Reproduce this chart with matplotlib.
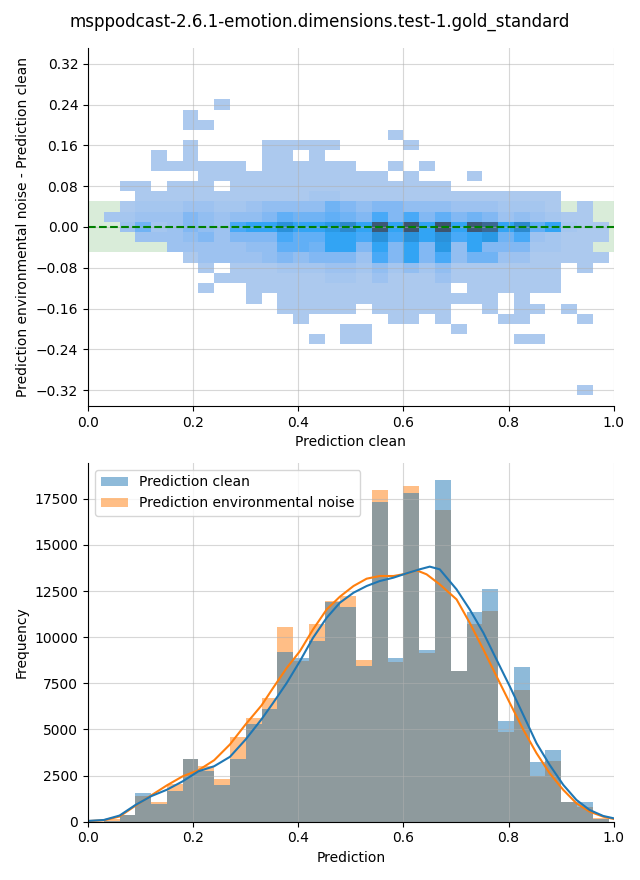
import numpy as np
import matplotlib
matplotlib.use("Agg")
import matplotlib.pyplot as plt
import seaborn as sns
from matplotlib.patches import Patch

TITLE = "msppodcast-2.6.1-emotion.dimensions.test-1.gold_standard"

# ---- top panel: 2D histogram (difference vs clean prediction) ----
# one string per y-bin row (top row = +0.24), one char per x-bin (0.03 wide, from 0.03)
# '.' = empty, other chars = intensity level
heat_rows = [
    ".......1" "........" "........" "........",  # 0.24
    ".....1.." "........" "........" "........",  # 0.22
    ".....11." "........" "........" "........",  # 0.20
    "........" "........" "..1....." "........",  # 0.18
    ".....1.." "..11111." "...1...." "........",  # 0.16
    "...1.1.." "..11.1.." "........" "........",  # 0.14
    "...11111" "1.111111" "..1.1..." "........",  # 0.12
    "......11" "11111111" "11.1...1" "........",  # 0.10
    ".11.111." "11111111" "111111.." "........",  # 0.08
    "..111111" "11111221" "11111111" "11111...",  # 0.06
    ".1222332" "23444465" "45544433" "32221.1.",  # 0.04
    "22333543" "44576676" "58585756" "5343211.",  # 0.02
    ".3623543" "899b99ac" "9e9f9f9e" "d9c79211",  # 0.00
    "..333453" "55587799" "8b8b9b89" "a6832111",  # -0.02
    "....3333" "34477699" "59595a49" "5552211.",  # -0.04
    ".....133" "33454555" "38595846" "63311111",  # -0.06
    "......1." "11122233" "24242411" "11111.1.",  # -0.08
    ".......1" "11111122" "13111311" "11111...",  # -0.10
    "......1." ".1111111" "111111.1" "11111...",  # -0.12
    "........" ".1.11111" "11111111" "1.1.....",  # -0.14
    "........" "...11111" ".11111.." "1.11.1..",  # -0.16
    "........" "....1..." "..11.1.." ".11...1.",  # -0.18
    "........" ".......1" "1.....1." "........",  # -0.20
    "........" ".....1.1" "1......." "..11....",  # -0.22
    "........" "........" "........" "........",  # -0.24
    "........" "........" "........" "........",  # -0.26
    "........" "........" "........" "........",  # -0.28
    "........" "........" "........" "........",  # -0.30
    "........" "........" "........" "......1.",  # -0.32
]
level_counts = {"1": 3, "2": 270, "3": 540, "4": 900, "5": 1350, "6": 1800,
                "7": 2160, "8": 2610, "9": 3060, "a": 3900, "b": 4400,
                "c": 5000, "d": 7400, "e": 8640, "f": 9000}

# ---- bottom panel: histogram counts per 0.03 bin (0.03 .. 0.99) ----
clean_counts = [60, 370, 1570, 965, 1640, 3370, 2730, 2000, 3420, 5280,
                6100, 9220, 8860, 9770, 11890, 11630, 8430, 17320, 8880, 17810,
                9330, 18520, 8190, 11380, 12590, 5470, 8410, 3225, 3900, 1070,
                1070, 150]
noise_counts = [130, 350, 1400, 1040, 2060, 3420, 3000, 2310, 4590, 5610,
                6680, 10580, 8730, 10690, 11940, 12210, 8770, 17980, 8680, 18190,
                9170, 16870, 8190, 10710, 11400, 4870, 7160, 2480, 3300, 1070,
                815, 220]

# KDE curves
kde_clean_x = [0.0, 0.03, 0.06, 0.09, 0.12, 0.15, 0.18, 0.21, 0.24, 0.27,
               0.30, 0.33, 0.352, 0.378, 0.403, 0.428, 0.454, 0.479, 0.505, 0.530,
               0.555, 0.581, 0.606, 0.631, 0.650, 0.669, 0.701, 0.726, 0.752, 0.777,
               0.802, 0.828, 0.853, 0.878, 0.904, 0.929, 0.954, 0.980, 1.0]
kde_clean = [40, 90, 330, 900, 1380, 1730, 2185, 2731, 3005, 3515,
             4460, 5550, 6433, 7520, 8698, 9966, 11053, 11869, 12412, 12775,
             13046, 13228, 13463, 13681, 13826, 13680, 12593, 11506, 10238, 8788,
             7350, 5780, 4258, 3080, 1993, 1178, 634, 308, 181]
kde_noise_x = [0.0, 0.03, 0.06, 0.09, 0.12, 0.15, 0.18, 0.21, 0.24, 0.27,
               0.30, 0.33, 0.352, 0.378, 0.403, 0.428, 0.454, 0.479, 0.505, 0.530,
               0.555, 0.581, 0.606, 0.625, 0.644, 0.669, 0.701, 0.726, 0.752, 0.777,
               0.802, 0.828, 0.853, 0.878, 0.904, 0.929, 0.954, 0.980, 1.0]
kde_noise = [30, 73, 280, 860, 1420, 1967, 2458, 2786, 3332, 4188,
             5281, 6300, 7248, 8335, 9241, 10419, 11506, 12195, 12775, 13173,
             13318, 13318, 13445, 13626, 13409, 12865, 12050, 10781, 9332, 7882,
             6450, 4983, 3715, 2627, 1721, 997, 544, 272, 145]

hist_edges = np.linspace(0.03, 0.99, 33)
heat_x_edges = np.linspace(0.03, 0.99, 33)
heat_y_edges = np.linspace(-0.33, 0.25, 30)

# ---- build 2D weights ----
x_cent = (heat_x_edges[:-1] + heat_x_edges[1:]) / 2
y_cent = ((heat_y_edges[:-1] + heat_y_edges[1:]) / 2)[::-1]
xs, ys, ws = [], [], []
for r, row in enumerate(heat_rows):
    for c, ch in enumerate(row):
        if ch != ".":
            xs.append(x_cent[c])
            ys.append(y_cent[r])
            ws.append(level_counts[ch])

fig = plt.figure(figsize=(6.4, 8.8), dpi=100)
ax1 = fig.add_axes([0.1375, 0.5386, 0.8215, 0.4069])
ax2 = fig.add_axes([0.1375, 0.0663, 0.8215, 0.4076])

ax1.axhspan(-0.05, 0.05, color="green", alpha=0.15, linewidth=0)
sns.histplot(x=xs, y=ys, weights=ws, bins=[heat_x_edges, heat_y_edges], ax=ax1)
ax1.axhline(0, color="green", linestyle="--", linewidth=1.5)
ax1.set_xlim(0, 1)
ax1.set_ylim(-0.351, 0.351)
ax1.set_yticks(np.arange(-0.32, 0.33, 0.08))
ax1.set_xlabel("Prediction clean")
ax1.set_ylabel("Prediction environmental noise - Prediction clean")
ax1.grid(True, alpha=0.5)

centers = (hist_edges[:-1] + hist_edges[1:]) / 2
width = hist_edges[1] - hist_edges[0]
ax2.bar(centers, noise_counts, width=width, color="C1", alpha=0.5, linewidth=0)
ax2.bar(centers, clean_counts, width=width, color="C0", alpha=0.5, linewidth=0)
ax2.plot(kde_noise_x, kde_noise, color="C1", linewidth=1.5)
ax2.plot(kde_clean_x, kde_clean, color="C0", linewidth=1.5)
ax2.set_xlim(0, 1)
ax2.set_xlabel("Prediction")
ax2.set_ylabel("Frequency")
ax2.grid(True, alpha=0.5)
handles = [Patch(facecolor="C0", alpha=0.5), Patch(facecolor="C1", alpha=0.5)]
ax2.legend(handles, ["Prediction clean", "Prediction environmental noise"],
           loc="upper left")

for ax in (ax1, ax2):
    ax.spines["top"].set_visible(False)
    ax.spines["right"].set_visible(False)

fig.suptitle(TITLE, fontsize=12, y=0.985)
fig.savefig("out.png", dpi=100)
